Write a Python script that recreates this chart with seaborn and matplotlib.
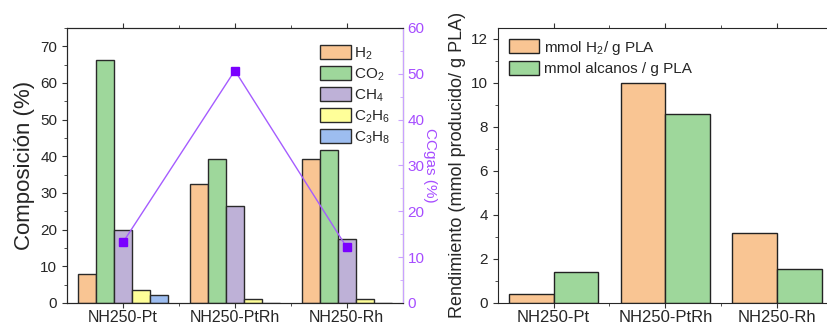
import numpy as np
import pandas as pd
import matplotlib
matplotlib.use("Agg")
import matplotlib.pyplot as plt
from matplotlib.ticker import MultipleLocator, FixedLocator
import seaborn as sns

# data
samples = ['NH250-Pt', 'NH250-PtRh', 'NH250-Rh']
gases = ['H$_2$', 'CO$_2$', 'CH$_4$', 'C$_2$H$_6$', 'C$_3$H$_8$']
h2 = [8.0, 32.5, 39.2]
co2 = [66.3, 39.2, 41.7]
ch4 = [20.0, 26.5, 17.5]
c2h6 = [3.5, 1.0, 1.0]
c3h8 = [2.3, 0.0, 0.0]
ccgas = [13.2, 50.7, 12.1]

yield_labels = ['mmol H$_2$/ g PLA', 'mmol alcanos / g PLA']
yield_h2 = [0.4, 10.0, 3.2]
yield_alc = [1.4, 8.6, 1.55]

gas_colors = ['#F9C593', '#9ED79B', '#BEB1D7', '#FFFF99', '#9DBDF0']
line_color = '#A55CFF'
marker_color = '#7A00FF'
axis_purple = '#C9A2FF'

sns.set_style('ticks')
plt.rcParams['font.family'] = ['Liberation Sans', 'DejaVu Sans']
plt.rcParams['mathtext.fontset'] = 'custom'
plt.rcParams['mathtext.rm'] = 'Liberation Sans'
plt.rcParams['mathtext.it'] = 'Liberation Sans'

comp = pd.DataFrame({
    'sample': np.repeat(samples, len(gases)),
    'gas': gases * len(samples),
    'value': [v for row in zip(h2, co2, ch4, c2h6, c3h8) for v in row],
})
rend = pd.DataFrame({
    'sample': samples * 2,
    'tipo': np.repeat(yield_labels, len(samples)),
    'value': yield_h2 + yield_alc,
})

fig = plt.figure(figsize=(8.27, 3.24), dpi=100)
ax1 = fig.add_axes([0.081, 0.065, 0.406, 0.849])
ax2 = fig.add_axes([0.602, 0.065, 0.405, 0.849])

# left panel: gas composition
sns.barplot(data=comp, x='sample', y='value', hue='gas', palette=gas_colors,
            saturation=1, edgecolor='#2a2a2a', linewidth=1.0, width=0.8, ax=ax1)
ax1.set_ylim(0, 75)
ax1.set_xlim(-0.5, 2.5)
ax1.yaxis.set_major_locator(MultipleLocator(10))
ax1.yaxis.set_minor_locator(MultipleLocator(5))
ax1.xaxis.set_minor_locator(FixedLocator([0.5, 1.5]))
ax1.tick_params(axis='both', which='both', top=True, labelsize=11, color='#333333')
ax1.tick_params(axis='x', labelsize=11.5, pad=1.5)
ax1.set_xlabel('')
ax1.set_ylabel('Composición (%)', fontsize=16)
ax1.legend(loc='upper right', bbox_to_anchor=(0.99, 0.97), fontsize=11, frameon=False,
           handlelength=2.0, handleheight=1.0, labelspacing=0.3, handletextpad=0.2,
           borderaxespad=0.2)

ax1b = ax1.twinx()
ax1b.plot(range(len(samples)), ccgas, color=line_color, lw=1.0, marker='s',
          markersize=6, markerfacecolor=marker_color, markeredgecolor=marker_color)
ax1b.set_ylim(0, 60)
ax1b.yaxis.set_major_locator(MultipleLocator(10))
ax1b.yaxis.set_minor_locator(MultipleLocator(5))
ax1b.spines['right'].set_color(axis_purple)
ax1b.tick_params(axis='y', which='both', direction='in', colors=axis_purple,
                 labelcolor='#A64DFF', labelsize=11)
ax1b.set_ylabel('CCgas (%)', color='#A64DFF', fontsize=11, rotation=270, labelpad=9)

# right panel: yields
sns.barplot(data=rend, x='sample', y='value', hue='tipo',
            palette=[gas_colors[0], gas_colors[1]], saturation=1, edgecolor='#222222',
            linewidth=1.0, width=0.8, ax=ax2)
ax2.set_xlim(-0.5, 2.5)
ax2.set_ylim(0, 12.5)
ax2.yaxis.set_major_locator(MultipleLocator(2))
ax2.yaxis.set_minor_locator(MultipleLocator(1))
ax2.xaxis.set_minor_locator(FixedLocator([0.5, 1.5]))
ax2.tick_params(axis='both', which='both', top=True, labelsize=11, color='#333333')
ax2.tick_params(axis='x', labelsize=12, pad=1.5)
ax2.set_xlabel('')
ax2.set_ylabel('Rendimiento (mmol producido/ g PLA)', fontsize=13)
ax2.legend(loc='upper left', fontsize=11, frameon=False, handlelength=2.0,
           handleheight=1.0, labelspacing=0.3, handletextpad=0.3, borderaxespad=0.3)

fig.savefig('out.png', dpi=100)
